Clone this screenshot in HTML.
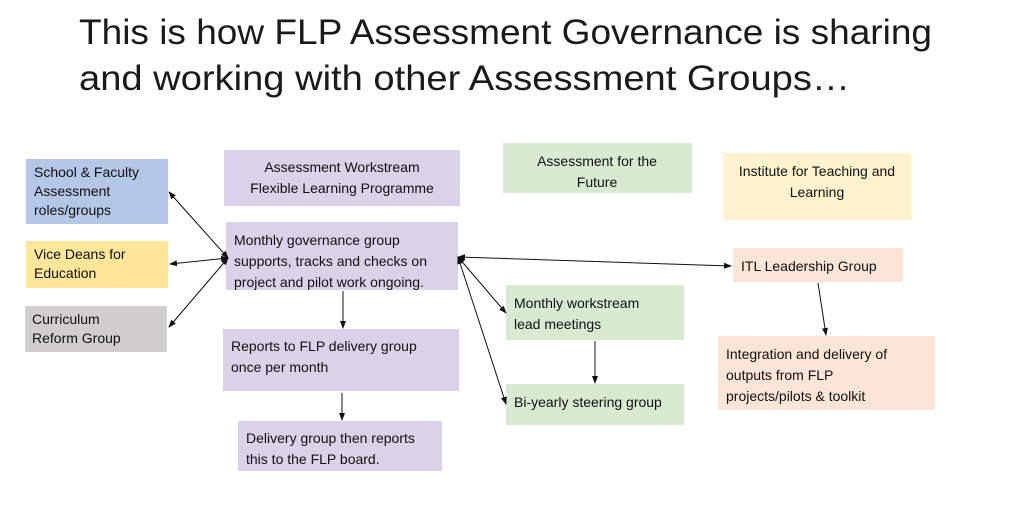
<!DOCTYPE html>
<html><head><meta charset="utf-8"><style>
html,body{margin:0;padding:0;background:#fff;}
svg{display:block;}
text{font-family:"Liberation Sans",sans-serif;fill:#111;}
.t{font-size:14px;}
.h{font-size:35px;fill:#1a1a1a;}
</style></head><body>
<svg width="1024" height="512" viewBox="0 0 1024 512" xmlns="http://www.w3.org/2000/svg">
<defs>
<marker id="a" markerWidth="8" markerHeight="8" refX="7" refY="4" orient="auto-start-reverse" markerUnits="userSpaceOnUse">
<path d="M0,1 L8,4 L0,7 z" fill="#111"/></marker>
</defs>
<text class="h" x="79" y="44" textLength="853" lengthAdjust="spacingAndGlyphs">This is how FLP Assessment Governance is sharing</text>
<text class="h" x="79" y="90" textLength="771" lengthAdjust="spacingAndGlyphs">and working with other Assessment Groups…</text>

<rect x="26" y="159" width="142" height="65" fill="#b4c7e7"/>
<text class="t" x="34" y="177">School &amp; Faculty</text>
<text class="t" x="34" y="196">Assessment</text>
<text class="t" x="34" y="215">roles/groups</text>

<rect x="26" y="241" width="142" height="47" fill="#ffe699"/>
<text class="t" x="34" y="259">Vice Deans for</text>
<text class="t" x="34" y="278">Education</text>

<rect x="25" y="306" width="142" height="46" fill="#d0cece"/>
<text class="t" x="32" y="324">Curriculum</text>
<text class="t" x="32" y="343">Reform Group</text>

<rect x="224" y="150" width="236" height="56" fill="#d9d2e9"/>
<text class="t" x="342" y="172" text-anchor="middle">Assessment Workstream</text>
<text class="t" x="342" y="193" text-anchor="middle">Flexible Learning Programme</text>

<rect x="226" y="222" width="232" height="68" fill="#d9d2e9"/>
<text class="t" x="234" y="245">Monthly governance group</text>
<text class="t" x="234" y="266">supports, tracks and checks on</text>
<text class="t" x="234" y="287">project and pilot work ongoing.</text>

<rect x="223" y="329" width="236" height="62" fill="#d9d2e9"/>
<text class="t" x="231" y="351">Reports to FLP delivery group</text>
<text class="t" x="231" y="372">once per month</text>

<rect x="238" y="421" width="204" height="50" fill="#d9d2e9"/>
<text class="t" x="246" y="443">Delivery group then reports</text>
<text class="t" x="246" y="464">this to the FLP board.</text>

<rect x="503" y="143" width="189" height="50" fill="#d9ead3"/>
<text class="t" x="597" y="166" text-anchor="middle">Assessment for the</text>
<text class="t" x="597" y="187" text-anchor="middle">Future</text>

<rect x="723" y="153" width="188" height="67" fill="#fff2cc"/>
<text class="t" x="817" y="176" text-anchor="middle">Institute for Teaching and</text>
<text class="t" x="817" y="197" text-anchor="middle">Learning</text>

<rect x="733" y="248" width="170" height="34" fill="#fbe5d6"/>
<text class="t" x="741" y="271">ITL Leadership Group</text>

<rect x="506" y="285" width="178" height="55" fill="#d9ead3"/>
<text class="t" x="514" y="308">Monthly workstream</text>
<text class="t" x="514" y="329">lead meetings</text>

<rect x="506" y="384" width="178" height="41" fill="#d9ead3"/>
<text class="t" x="514" y="407">Bi-yearly steering group</text>

<rect x="718" y="336" width="217" height="74" fill="#fbe5d6"/>
<text class="t" x="726" y="359">Integration and delivery of</text>
<text class="t" x="726" y="380">outputs from FLP</text>
<text class="t" x="726" y="401">projects/pilots &amp; toolkit</text>

<g stroke="#111" stroke-width="1" fill="none">
<line x1="228" y1="258" x2="169" y2="192" marker-start="url(#a)" marker-end="url(#a)"/>
<line x1="228" y1="258" x2="170" y2="264" marker-start="url(#a)" marker-end="url(#a)"/>
<line x1="228" y1="258" x2="169" y2="327" marker-start="url(#a)" marker-end="url(#a)"/>
<line x1="458" y1="257" x2="731" y2="266" marker-start="url(#a)" marker-end="url(#a)"/>
<line x1="458" y1="257" x2="506" y2="313" marker-start="url(#a)" marker-end="url(#a)"/>
<line x1="458" y1="257" x2="506" y2="404" marker-start="url(#a)" marker-end="url(#a)"/>
<line x1="343" y1="291" x2="343" y2="328" marker-end="url(#a)"/>
<line x1="342" y1="393" x2="342" y2="420" marker-end="url(#a)"/>
<line x1="595" y1="341" x2="595" y2="383" marker-end="url(#a)"/>
<line x1="818" y1="283" x2="826" y2="335" marker-end="url(#a)"/>
</g>
</svg>
</body></html>
